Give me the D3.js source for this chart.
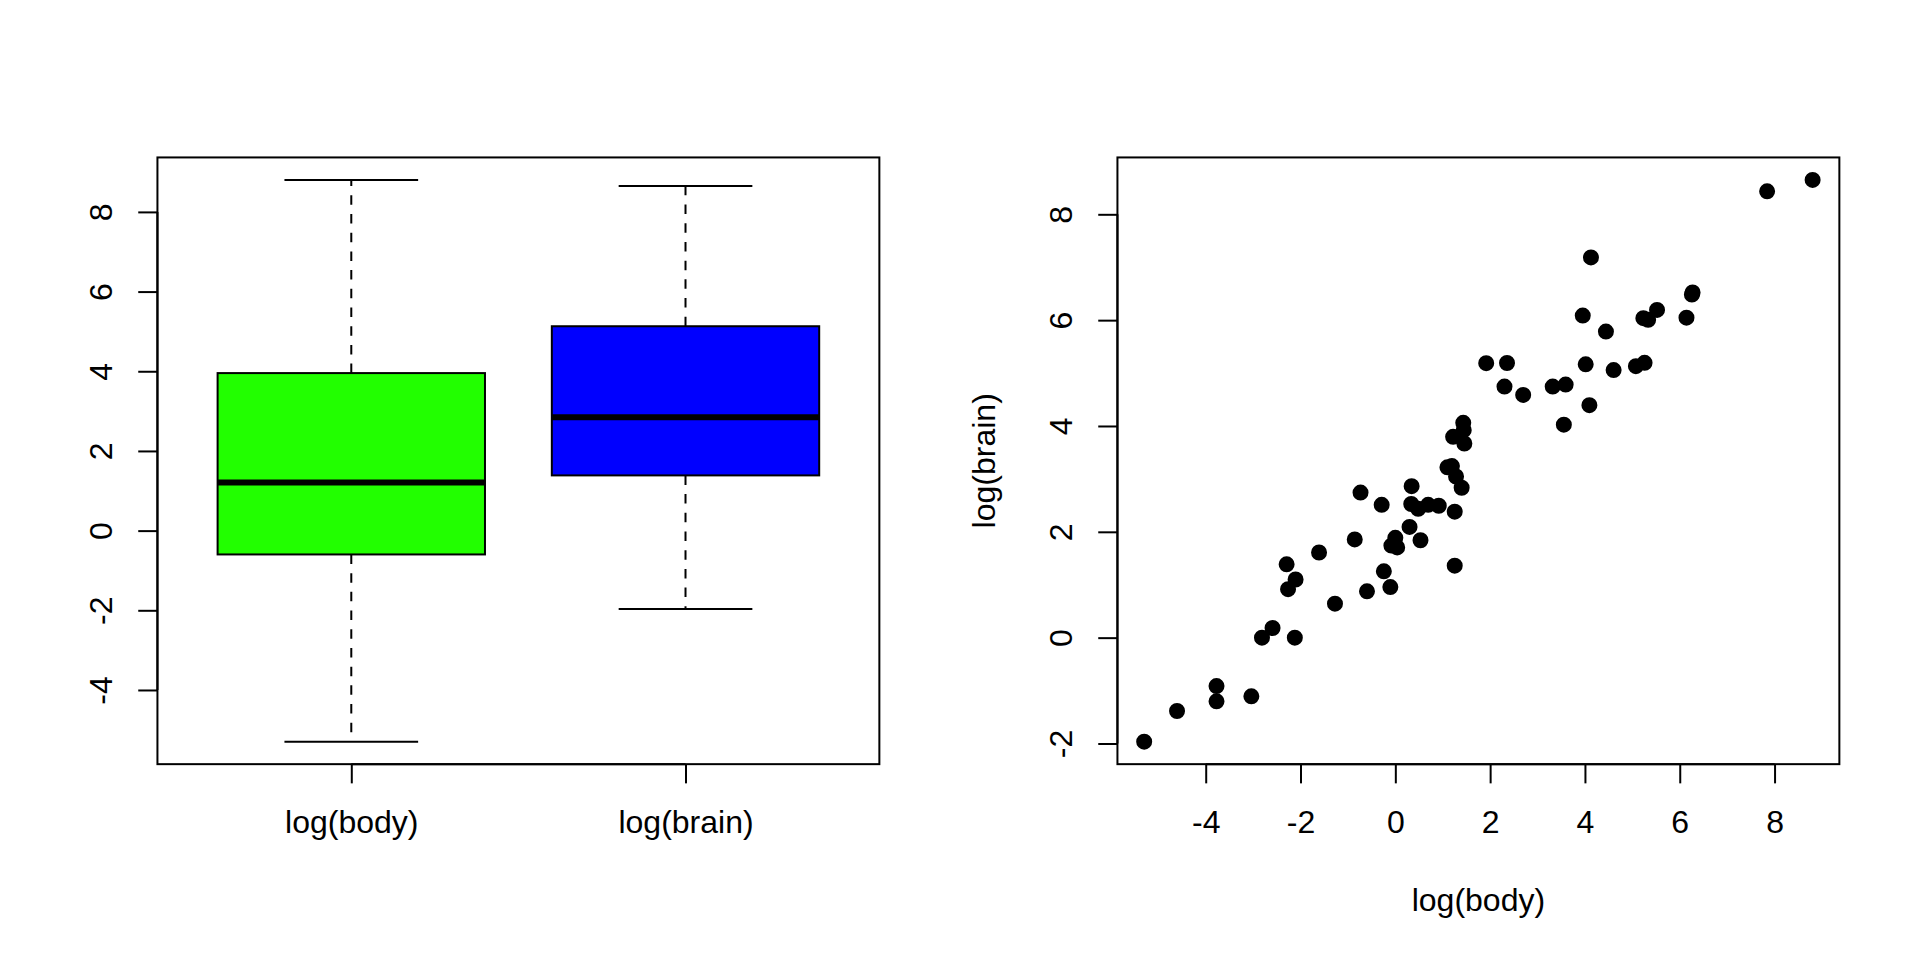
<!DOCTYPE html>
<html>
<head>
<meta charset="utf-8">
<script src="https://cdn.jsdelivr.net/npm/d3@7"></script>
<style>
  html, body { margin: 0; padding: 0; background: #fff; }
  svg { display: block; }
  text { font-family: "Liberation Sans", Arial, Helvetica, sans-serif; font-size: 32px; fill: #000; }
</style>
</head>
<body>
<div id="chart"></div>
<script>
// mammals: natural log of body weight (kg) and brain weight (g)
const species = ['Arctic fox', 'Owl monkey', 'Mountain beaver', 'Cow', 'Grey wolf', 'Goat', 'Roe deer', 'Guinea pig', 'Verbet', 'Chinchilla',
  'Ground squirrel', 'Arctic ground squirrel', 'African giant pouched rat', 'Lesser short-tailed shrew', 'Star-nosed mole', 'Nine-banded armadillo', 'Tree hyrax', 'N.A. opossum', 'Asian elephant', 'Big brown bat',
  'Donkey', 'Horse', 'European hedgehog', 'Patas monkey', 'Cat', 'Galago', 'Genet', 'Giraffe', 'Gorilla', 'Grey seal',
  'Rock hyrax-a', 'Human', 'African elephant', 'Water opossum', 'Rhesus monkey', 'Kangaroo', 'Yellow-bellied marmot', 'Golden hamster', 'Mouse', 'Little brown bat',
  'Slow loris', 'Okapi', 'Rabbit', 'Sheep', 'Jaguar', 'Chimpanzee', 'Baboon', 'Desert hedgehog', 'Giant armadillo', 'Rock hyrax-b',
  'Raccoon', 'Rat', 'E. American mole', 'Mole rat', 'Musk shrew', 'Pig', 'Echidna', 'Brazilian tapir', 'Tenrec', 'Phalanger',
  'Tree shrew', 'Red fox']

const logBody = [1.219, -0.734, 0.300, 6.142, 3.593, 3.320, 2.697, 0.039, 1.433, -0.856,
  -2.293, -0.083, 0.000, -5.298, -2.813, 1.253, 0.693, 0.531, 7.843, -3.772,
  5.232, 6.256, -0.242, 2.303, 1.194, -1.609, 0.344, 6.271, 5.333, 4.443,
  -0.288, 4.127, 8.803, 1.253, 1.917, 3.555, 1.399, -2.120, -3.772, -4.605,
  0.336, 5.521, 0.916, 4.016, 4.605, 3.954, 2.356, -0.598, 4.094, 1.281,
  1.456, -1.273, -2.590, -2.104, -3.037, 5.258, 1.099, 5.075, -0.105, 0.482,
  -2.263, 1.443]

const logBrain = [3.795, 2.741, 2.092, 6.047, 4.783, 4.745, 4.587, 1.705, 4.060, 1.856,
  1.386, 1.740, 1.887, -1.966, 0.000, 2.380, 2.510, 1.841, 8.434, -1.204,
  6.038, 6.485, 1.253, 4.745, 3.243, 1.609, 2.862, 6.522, 6.006, 5.784,
  2.510, 7.185, 8.650, 1.361, 5.187, 4.025, 2.833, 0.000, -0.916, -1.386,
  2.526, 6.194, 2.493, 5.165, 5.056, 6.087, 5.190, 0.875, 4.394, 3.045,
  3.669, 0.642, 0.182, 1.099, -1.109, 5.193, 3.219, 5.130, 0.956, 2.434,
  0.916, 3.920]

const boxLabels = ['log(body)', 'log(brain)']
const boxColors = ['#22ff00', '#0000ff']
const yTicksBox = [-4, -2, 0, 2, 4, 6, 8]
const xTicksScatter = [-4, -2, 0, 2, 4, 6, 8]
const yTicksScatter = [-2, 0, 2, 4, 6, 8]

const W = 1920
const H = 960
const lineH = 38.4
const margin = { top: 4.1 * lineH, right: 2.1 * lineH, bottom: 5.1 * lineH, left: 4.1 * lineH }
const panelW = W / 2
const innerW = panelW - margin.left - margin.right
const innerH = H - margin.top - margin.bottom
const tick = lineH / 2
const lwd = 2

const svg = d3.select('#chart').append('svg')
  .attr('width', W)
  .attr('height', H)

// R style range padding (4% each side)
function pad(ext) {
  const d = (ext[1] - ext[0]) * 0.04
  return [ext[0] - d, ext[1] + d]
}

// Tukey five number summary
function fivenum(v) {
  const x = v.slice().sort(d3.ascending)
  const n = x.length
  const n4 = Math.floor((n + 3) / 2) / 2
  const idx = [1, n4, (n + 1) / 2, n + 1 - n4, n]
  return idx.map(i => 0.5 * (x[Math.floor(i) - 1] + x[Math.ceil(i) - 1]))
}

function boxStats(v) {
  const f = fivenum(v)
  const iqr = f[3] - f[1]
  const inside = v.filter(d => d >= f[1] - 1.5 * iqr && d <= f[3] + 1.5 * iqr)
  return { lo: d3.min(inside), q1: f[1], med: f[2], q3: f[3], hi: d3.max(inside) }
}

function styleAxis(g) {
  g.selectAll('path, line').attr('stroke', '#000').attr('stroke-width', lwd)
  g.selectAll('text').attr('font-size', 32).attr('fill', '#000')
    .style('font-family', '"Liberation Sans", Arial, Helvetica, sans-serif')
}

function leftAxis(g, scale, ticks) {
  g.call(d3.axisLeft(scale).tickValues(ticks).tickSize(tick).tickSizeOuter(0).tickFormat(d3.format('d')))
  g.select('.domain').remove()
  g.selectAll('.tick text')
    .attr('x', null).attr('dy', null)
    .attr('text-anchor', 'middle')
    .attr('transform', `translate(${-45},0) rotate(-90)`)
  g.call(styleAxis)
  // axis line spans first to last tick
  const ext = d3.extent(ticks).map(scale)
  g.append('line').attr('x1', 0).attr('x2', 0).attr('y1', ext[0]).attr('y2', ext[1])
    .attr('stroke', '#000').attr('stroke-width', lwd)
}

function bottomAxis(g, scale, ticks, fmt) {
  g.call(d3.axisBottom(scale).tickValues(ticks).tickSize(tick).tickSizeOuter(0).tickFormat(fmt))
  g.select('.domain').remove()
  g.selectAll('.tick text').attr('dy', null).attr('y', 69)
  g.call(styleAxis)
  const ext = d3.extent(ticks).map(scale)
  g.append('line').attr('y1', 0).attr('y2', 0).attr('x1', ext[0]).attr('x2', ext[1])
    .attr('stroke', '#000').attr('stroke-width', lwd)
}

// ---------- left panel: boxplot ----------
const stats = [boxStats(logBody), boxStats(logBrain)]
const gBox = svg.append('g').attr('transform', `translate(${margin.left},${margin.top})`)

const xBox = d3.scaleLinear().domain(pad([0.5, 2.5])).range([0, innerW])
const yBox = d3.scaleLinear()
  .domain(pad([d3.min(stats, d => d.lo), d3.max(stats, d => d.hi)]))
  .range([innerH, 0])

const boxW = 0.8
const groups = gBox.selectAll('.box')
  .data(stats)
  .enter()
  .append('g')
  .attr('class', 'box')

// whiskers (dashed), drawn from the hinge outward
groups.append('line')
  .attr('x1', (d, i) => xBox(i + 1)).attr('x2', (d, i) => xBox(i + 1))
  .attr('y1', d => yBox(d.q3)).attr('y2', d => yBox(d.hi))
  .attr('stroke', '#000').attr('stroke-width', lwd).attr('stroke-dasharray', '9.5,9.2')
groups.append('line')
  .attr('x1', (d, i) => xBox(i + 1)).attr('x2', (d, i) => xBox(i + 1))
  .attr('y1', d => yBox(d.q1)).attr('y2', d => yBox(d.lo))
  .attr('stroke', '#000').attr('stroke-width', lwd).attr('stroke-dasharray', '9.5,9.2')

// staples
groups.selectAll('.staple')
  .data(d => [d.lo, d.hi].map(v => ({ v })))
  .enter()
  .append('line')
  .attr('class', 'staple')
  .each(function(d) {
    const i = stats.indexOf(d3.select(this.parentNode).datum())
    d3.select(this)
      .attr('x1', xBox(i + 1 - boxW / 4)).attr('x2', xBox(i + 1 + boxW / 4))
      .attr('y1', yBox(d.v)).attr('y2', yBox(d.v))
  })
  .attr('stroke', '#000').attr('stroke-width', lwd)

// boxes
groups.append('rect')
  .attr('x', (d, i) => xBox(i + 1 - boxW / 2))
  .attr('width', (d, i) => xBox(i + 1 + boxW / 2) - xBox(i + 1 - boxW / 2))
  .attr('y', d => yBox(d.q3))
  .attr('height', d => yBox(d.q1) - yBox(d.q3))
  .attr('fill', (d, i) => boxColors[i])
  .attr('stroke', '#000').attr('stroke-width', lwd)

// medians
groups.append('line')
  .attr('x1', (d, i) => xBox(i + 1 - boxW / 2)).attr('x2', (d, i) => xBox(i + 1 + boxW / 2))
  .attr('y1', d => yBox(d.med)).attr('y2', d => yBox(d.med))
  .attr('stroke', '#000').attr('stroke-width', 3 * lwd)

gBox.append('g').call(leftAxis, yBox, yTicksBox)
gBox.append('g').attr('transform', `translate(0,${innerH})`)
  .call(bottomAxis, xBox, [1, 2], d => boxLabels[d - 1])

gBox.append('rect')
  .attr('width', innerW).attr('height', innerH)
  .attr('fill', 'none').attr('stroke', '#000').attr('stroke-width', lwd)

// ---------- right panel: scatter ----------
const gSc = svg.append('g').attr('transform', `translate(${panelW + margin.left},${margin.top})`)
const xSc = d3.scaleLinear().domain(pad(d3.extent(logBody))).range([0, innerW])
const ySc = d3.scaleLinear().domain(pad(d3.extent(logBrain))).range([innerH, 0])

gSc.selectAll('.pt')
  .data(species)
  .enter()
  .append('circle')
  .attr('class', 'pt')
  .attr('cx', (d, i) => xSc(logBody[i]))
  .attr('cy', (d, i) => ySc(logBrain[i]))
  .attr('r', 7)
  .attr('fill', '#000')
  .attr('stroke', '#000')
  .attr('stroke-width', lwd)

gSc.append('g').call(leftAxis, ySc, yTicksScatter)
gSc.append('g').attr('transform', `translate(0,${innerH})`)
  .call(bottomAxis, xSc, xTicksScatter, d3.format('d'))

gSc.append('rect')
  .attr('width', innerW).attr('height', innerH)
  .attr('fill', 'none').attr('stroke', '#000').attr('stroke-width', lwd)

// axis titles
gSc.append('text')
  .attr('x', innerW / 2).attr('y', innerH + 147)
  .attr('text-anchor', 'middle')
  .text('log(body)')

gSc.append('text')
  .attr('text-anchor', 'middle')
  .attr('transform', `translate(${-122},${innerH / 2}) rotate(-90)`)
  .text('log(brain)')

// minus signs as plain hyphen like R
svg.selectAll('.tick text').text(function() { return d3.select(this).text().replace('\u2212', '-') })
</script>
</body>
</html>
